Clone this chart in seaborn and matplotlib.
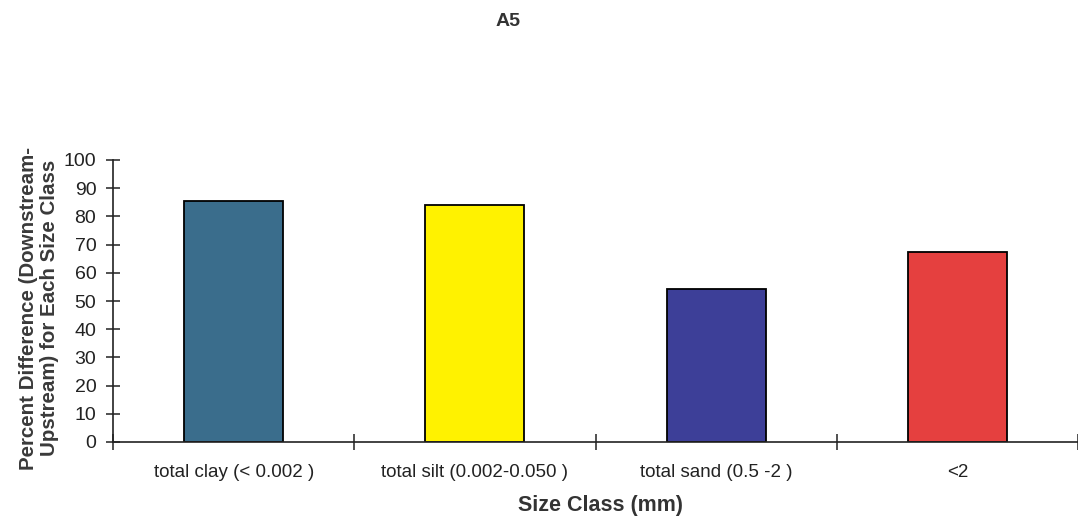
import matplotlib
matplotlib.use("Agg")
import matplotlib.pyplot as plt
from matplotlib import font_manager
import seaborn as sns
import pandas as pd

categories = ["total clay (< 0.002 )", "total silt (0.002-0.050 )", "total sand (0.5 -2 )", "<2"]
values = [85.3, 83.9, 54.3, 67.3]
bar_colors = ["#3a6d8c", "#fff200", "#3d3f98", "#e5403f"]
yticks = list(range(0, 101, 10))

sns.set_theme(style="white")
avail = {f.name for f in font_manager.fontManager.ttflist}
narrow = "Liberation Sans Narrow" if "Liberation Sans Narrow" in avail else "Liberation Sans"
plt.rcParams["font.family"] = [narrow, "Liberation Sans", "DejaVu Sans"]

df = pd.DataFrame({"cat": categories, "val": values})

fig = plt.figure(figsize=(10.78, 5.20), dpi=100)
ax = fig.add_axes([113 / 1078, 78 / 520, 965 / 1078, 282 / 520])

sns.barplot(data=df, x="cat", y="val", hue="cat", palette=bar_colors,
            order=categories, hue_order=categories, width=0.41,
            edgecolor="black", linewidth=1.3, legend=False, ax=ax, saturation=1)

ax.set_xlim(-0.5, 3.47)
ax.set_ylim(0, 100)
ax.set_yticks(yticks)
ax.set_yticklabels([str(t) for t in yticks], fontsize=14, color="#222222",
                   family=["Liberation Sans", "DejaVu Sans"])
ax.tick_params(axis="y", left=True, direction="inout", length=10, width=1.1,
               color="#222222", pad=7)

ax.set_xticks([-0.5, 0.5, 1.5, 2.5, 3.5])
ax.set_xticklabels([])
ax.set_xticks(range(len(categories)), minor=True)
ax.set_xticklabels(categories, minor=True, fontsize=13.5, color="#222222")
ax.tick_params(axis="x", which="major", bottom=True, direction="inout", length=12,
               width=1.1, color="#222222")
ax.tick_params(axis="x", which="minor", bottom=True, length=0, pad=16)

for s in ["top", "right"]:
    ax.spines[s].set_visible(False)
for s in ["left", "bottom"]:
    ax.spines[s].set_color("#222222")
    ax.spines[s].set_linewidth(1.2)

ax.set_xlabel("")
ax.set_ylabel("")

fig.text(508 / 1078, 1 - 22 / 520, "A5", ha="center", va="center",
         fontsize=14, fontweight="bold", color="#333333",
         family=["Liberation Sans", "DejaVu Sans"])
fig.text(600 / 1078, 1 - 505 / 520, "Size Class (mm)", ha="center", va="center",
         fontsize=15.5, fontweight="bold", color="#333333")
fig.text(39 / 1078, 1 - 308 / 520,
         "Percent Difference (Downstream-\nUpstream) for Each Size Class",
         ha="center", va="center", rotation=90, multialignment="center",
         fontsize=14.8, fontweight="bold", color="#3a3a3a", linespacing=1.1,
         family=["Liberation Sans", "DejaVu Sans"])

fig.savefig("out.png", dpi=100)
